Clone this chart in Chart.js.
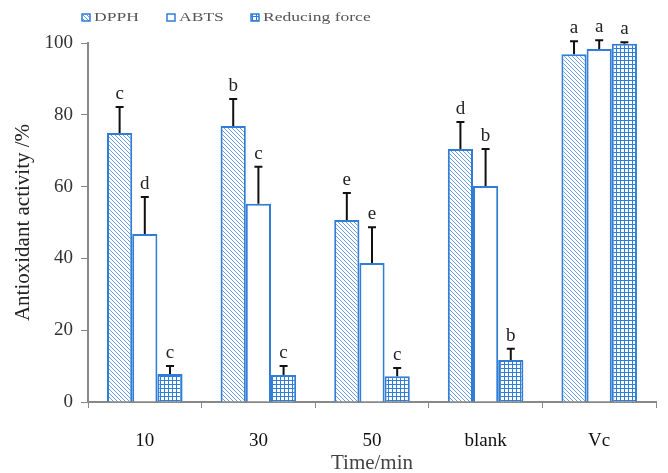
<!DOCTYPE html>
<html>
<head>
<meta charset="utf-8">
<script src="https://cdn.jsdelivr.net/npm/chart.js@4.4.1/dist/chart.umd.min.js"></script>
<style>
  html, body { margin: 0; padding: 0; background: #fff; }
  #wrap { width: 668px; height: 473px; }
</style>
</head>
<body>
<div id="wrap"><canvas id="chart" width="668" height="473"></canvas></div>
<script>
// data
const categories = ['10', '30', '50', 'blank', 'Vc'];
const seriesNames = ['DPPH', 'ABTS', 'Reducing force'];
const dpph = [74.9, 76.9, 50.7, 70.5, 96.9];
const abts = [46.8, 55.2, 38.7, 60.2, 98.3];
const reducing = [7.8, 7.5, 7.2, 11.7, 99.8];
const dpphErr = [7.3, 7.5, 7.5, 7.5, 3.6];
const abtsErr = [10.3, 10.3, 10.0, 10.3, 2.5];
const reducingErr = [2.2, 2.5, 2.3, 3.1, 0.4];
const dpphLetters = ['c', 'b', 'e', 'd', 'a'];
const abtsLetters = ['d', 'c', 'e', 'b', 'a'];
const reducingLetters = ['c', 'c', 'c', 'b', 'a'];
const yTicks = [0, 20, 40, 60, 80, 100];

const blue = '#2f7dd6';
const serif = "'Liberation Serif', 'DejaVu Serif', serif";

function hatchPattern() {
    const c = document.createElement('canvas');
    c.width = 4; c.height = 4;
    const g = c.getContext('2d');
    g.fillStyle = '#fff';
    g.fillRect(0, 0, 4, 4);
    g.strokeStyle = '#6d9fdc';
    g.lineWidth = 1;
    g.beginPath();
    g.moveTo(-1, -1); g.lineTo(5, 5);
    g.moveTo(-1, 3); g.lineTo(1, 5);
    g.moveTo(3, -1); g.lineTo(5, 1);
    g.stroke();
    return g.createPattern(c, 'repeat');
}

function gridPattern() {
    const c = document.createElement('canvas');
    c.width = 4; c.height = 4;
    const g = c.getContext('2d');
    g.fillStyle = '#fff';
    g.fillRect(0, 0, 4, 4);
    g.fillStyle = blue;
    g.fillRect(0, 0, 4, 1);
    g.fillRect(0, 0, 1, 4);
    return g.createPattern(c, 'repeat');
}

const fills = [hatchPattern(), '#ffffff', gridPattern()];
const errs = [dpphErr, abtsErr, reducingErr];
const letters = [dpphLetters, abtsLetters, reducingLetters];

// error bars (upper only) plus significance letters
const errorBars = {
    id: 'errorBars',
    afterDatasetsDraw(chart) {
        const ctx = chart.ctx;
        const y = chart.scales.y;
        ctx.save();
        chart.data.datasets.forEach((ds, i) => {
            const meta = chart.getDatasetMeta(i);
            meta.data.forEach((bar, j) => {
                const top = y.getPixelForValue(ds.data[j] + errs[i][j]);
                ctx.strokeStyle = '#111';
                ctx.lineWidth = 2;
                ctx.beginPath();
                ctx.moveTo(bar.x, bar.y);
                ctx.lineTo(bar.x, top);
                ctx.moveTo(bar.x - 4, top);
                ctx.lineTo(bar.x + 4, top);
                ctx.stroke();
                ctx.fillStyle = '#222';
                ctx.font = '19px ' + serif;
                ctx.textAlign = 'center';
                ctx.textBaseline = 'alphabetic';
                ctx.fillText(letters[i][j], bar.x, top - 8);
            });
        });
        ctx.restore();
    }
};

// small legend at the top left, text stretched wide like the original
const topLegend = {
    id: 'topLegend',
    afterDraw(chart) {
        const ctx = chart.ctx;
        const xs = [82, 167, 251];
        ctx.save();
        ctx.font = '13px ' + serif;
        ctx.textBaseline = 'middle';
        ctx.textAlign = 'left';
        seriesNames.forEach((name, i) => {
            ctx.fillStyle = fills[i];
            ctx.fillRect(xs[i], 14, 8, 7);
            ctx.strokeStyle = blue;
            ctx.lineWidth = 1.5;
            ctx.strokeRect(xs[i], 14, 8, 7);
            ctx.save();
            ctx.translate(xs[i] + 12, 18);
            ctx.scale(1.35, 1);
            ctx.fillStyle = '#555';
            ctx.fillText(name, 0, 0);
            ctx.restore();
        });
        ctx.restore();
    }
};

const datasets = seriesNames.map((name, i) => ({
    label: name,
    data: [dpph, abts, reducing][i],
    backgroundColor: fills[i],
    borderColor: blue,
    borderWidth: 2,
    borderSkipped: 'bottom',
    barPercentage: 1.0,
    categoryPercentage: 0.665
}));

new Chart(document.getElementById('chart'), {
    type: 'bar',
    data: { labels: categories, datasets: datasets },
    options: {
        responsive: false,
        animation: false,
        layout: { padding: { top: 43, right: 12, left: 0, bottom: 0 } },
        plugins: {
            legend: { display: false },
            tooltip: { enabled: false }
        },
        scales: {
            x: {
                grid: { drawOnChartArea: false, tickLength: 6, color: '#888', offset: true },
                border: { color: '#888', width: 2 },
                ticks: { color: '#111', font: { family: serif, size: 19 }, padding: 22 },
                title: { display: true, text: 'Time/min', color: '#444', font: { family: serif, size: 21, lineHeight: 0.9 }, padding: { top: 0, bottom: 0 } },
                afterFit(scale) { scale.height = 71; }
            },
            y: {
                min: 0,
                max: 100,
                afterBuildTicks(scale) { scale.ticks = yTicks.map(v => ({ value: v })); },
                grid: { drawOnChartArea: false, tickLength: 7, color: '#888' },
                border: { color: '#888', width: 2 },
                ticks: { color: '#333', font: { family: serif, size: 19 }, padding: 8 },
                title: { display: true, text: 'Antioxidant activity /%', color: '#222', font: { family: serif, size: 21 }, padding: { top: 11, bottom: 0 } },
                afterFit(scale) { scale.width = 88; }
            }
        }
    },
    plugins: [errorBars, topLegend]
});
</script>
</body>
</html>
